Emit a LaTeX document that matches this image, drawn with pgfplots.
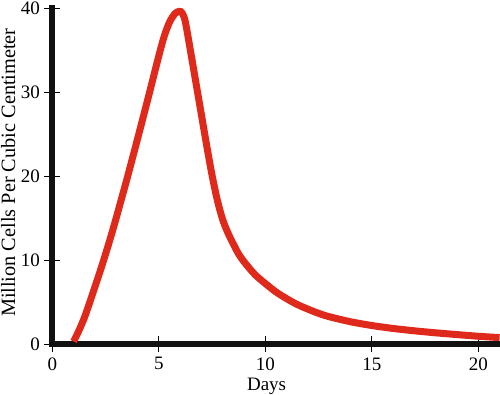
\documentclass[border=0pt]{standalone}
\usepackage{fontspec}
\setmainfont{Liberation Serif}
\usepackage{pgfplots}
\pgfplotsset{compat=1.18}
\definecolor{curvered}{RGB}{222,41,27}
\definecolor{axisblack}{RGB}{17,17,17}
\begin{document}
\begin{tikzpicture}
\useasboundingbox (-52.3pt,-51pt) rectangle (447.7pt,344pt);
\begin{axis}[
  at={(0pt,0pt)}, anchor=south west,
  scale only axis, width=447.3pt, height=336pt,
  xmin=0, xmax=21, ymin=0, ymax=40,
  axis x line=bottom, axis y line=left,
  axis line style={-, line width=6pt, draw=axisblack, line cap=rect},
  xtick={0,5,10,15,20}, ytick={0,10,20,30,40},
  tick align=center, major tick length=16pt,
  tick style={line width=0.8pt, black},
  /pgf/number format/assume math mode=true,
  tick label style={font=\fontsize{19}{22}\selectfont},
  xticklabel style={anchor=north, yshift=-2pt},
  yticklabel style={anchor=east, xshift=-1pt},
  xlabel={Days}, ylabel={Million Cells Per Cubic Centimeter},
  xlabel style={font=\fontsize{19}{22}\selectfont, at={(axis description cs:0.479,0)}, anchor=center, yshift=-42.5pt},
  ylabel style={font=\fontsize{20.3}{24}\selectfont, at={(axis description cs:-0.0984,0.51)}, anchor=center},
  clip=false,
]
\addplot[curvered, line width=7pt, smooth, tension=0.5] coordinates {
(1.0,0.3) (1.25,1.6) (1.5,3.1) (1.75,4.9) (2.0,6.8) (2.25,8.7) (2.5,10.7)
(2.75,12.8) (3.0,15.0) (3.25,17.3) (3.5,19.6) (4.0,24.4) (4.5,29.3)
(5.0,34.3) (5.25,36.6) (5.5,38.3) (5.75,39.3) (5.95,39.6) (6.1,39.4)
(6.25,38.3) (6.5,34.7) (6.75,31.0) (7.0,27.3) (7.25,23.6) (7.5,20.1)
(7.75,17.1) (8.0,14.8) (8.25,13.2) (8.5,11.9) (8.75,10.7) (9.0,9.8)
(9.5,8.3) (10.0,7.2) (10.5,6.2) (11.0,5.4) (11.5,4.7) (12.0,4.15)
(12.5,3.65) (13.0,3.25) (14.0,2.65) (15.0,2.2) (16.0,1.85) (17.0,1.57)
(18.0,1.33) (19.0,1.12) (20.0,0.92) (21.0,0.76)
};
\end{axis}
\end{tikzpicture}
\end{document}
